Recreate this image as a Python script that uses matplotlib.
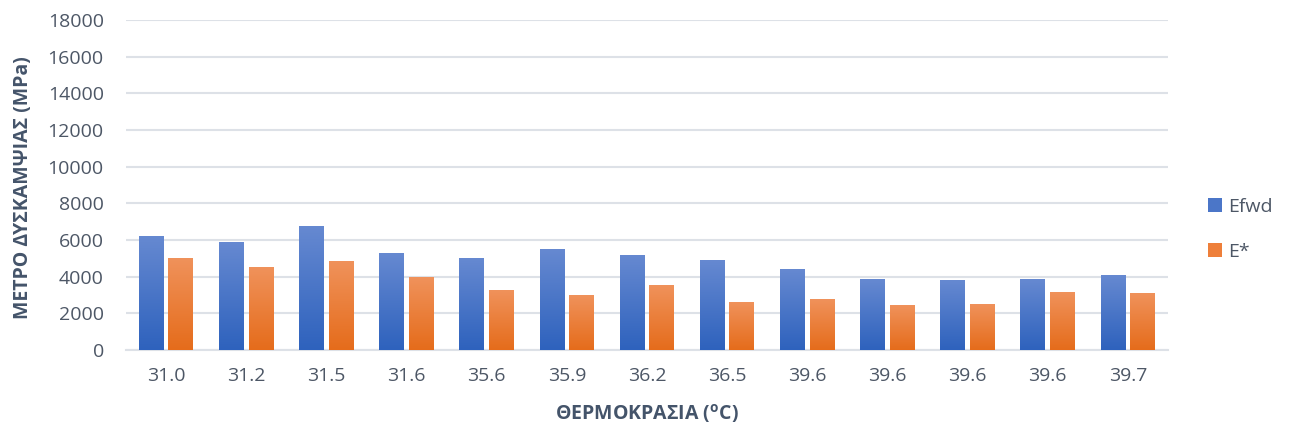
import numpy as np
import matplotlib
matplotlib.use("Agg")
import matplotlib.pyplot as plt
from matplotlib.colors import LinearSegmentedColormap

plt.rcParams['font.family'] = ['Open Sans', 'DejaVu Sans']
plt.rcParams['mathtext.fontset'] = 'custom'
plt.rcParams['mathtext.rm'] = 'Open Sans'
plt.rcParams['mathtext.bf'] = 'Open Sans:bold'

# data
temps = ['31.0', '31.2', '31.5', '31.6', '35.6', '35.9', '36.2',
         '36.5', '39.6', '39.6', '39.6', '39.6', '39.7']
efwd = [6190, 5860, 6740, 5260, 4990, 5480, 5150, 4880, 4390, 3850, 3790, 3850, 4060]
estar = [4990, 4500, 4830, 3950, 3250, 2970, 3520, 2590, 2750, 2430, 2480, 3140, 3080]

text_col = '#44546A'
tick_col = '#4D5766'
blue_top, blue_bot = '#6689D1', '#2E62BD'
orange_top, orange_bot = '#F0925B', '#E56C1B'

fig = plt.figure(figsize=(12.91, 4.32), dpi=100)
ax = fig.add_axes([0.0976, 0.190, 0.807, 0.764])

x = np.arange(len(temps))
w = 0.31
off = 0.185
b1 = ax.bar(x - off, efwd, width=w, color='#4B76C8', label='Efwd', zorder=2)
b2 = ax.bar(x + off, estar, width=w, color='#EE7F3A', label='E*', zorder=2)

# gradient fill, lighter at the top like the original
grad = np.linspace(1, 0, 256).reshape(-1, 1)
for bars, top, bot in [(b1, blue_top, blue_bot), (b2, orange_top, orange_bot)]:
    cmap = LinearSegmentedColormap.from_list('g', [bot, top])
    for p in bars:
        x0, y0 = p.get_x(), p.get_y()
        ax.imshow(grad, cmap=cmap, aspect='auto', zorder=3,
                  extent=(x0, x0 + p.get_width(), y0, y0 + p.get_height()),
                  vmin=0, vmax=1)
ax.set_xlim(-0.5, len(temps) - 0.5)
ax.set_ylim(0, 18000)

ax.set_yticks(np.arange(0, 18001, 2000))
ax.set_xticks(x)
ax.set_xticklabels(temps)
ax.yaxis.grid(True, color='#DDE1E7', linewidth=1.5, zorder=0)
ax.set_axisbelow(True)
for s in ['top', 'right', 'left']:
    ax.spines[s].set_visible(False)
ax.spines['bottom'].set_color('#DDE1E7')
ax.spines['bottom'].set_linewidth(1.5)
ax.tick_params(axis='both', length=0, labelsize=14, labelcolor=tick_col)
ax.tick_params(axis='y', pad=16)
ax.tick_params(axis='x', pad=12)

fig.text(0.018, 0.565, 'ΜΕΤΡΟ ΔΥΣΚΑΜΨΙΑΣ (MPa)', rotation=90, ha='center', va='center',
         fontsize=14, fontweight='bold', color=text_col)
fig.text(0.501, 0.043, r'ΘΕΡΜΟΚΡΑΣΙΑ ($\mathbf{^{o}}$C)', ha='center', va='center',
         fontsize=14, fontweight='bold', color=text_col)

leg = fig.legend(handles=[b1, b2], loc='center left', bbox_to_anchor=(0.922, 0.469),
                 frameon=False, fontsize=14, labelspacing=1.4, handlelength=0.75,
                 handleheight=0.75, handletextpad=0.3)
for t in leg.get_texts():
    t.set_color(tick_col)

fig.savefig('out.png', dpi=100)
